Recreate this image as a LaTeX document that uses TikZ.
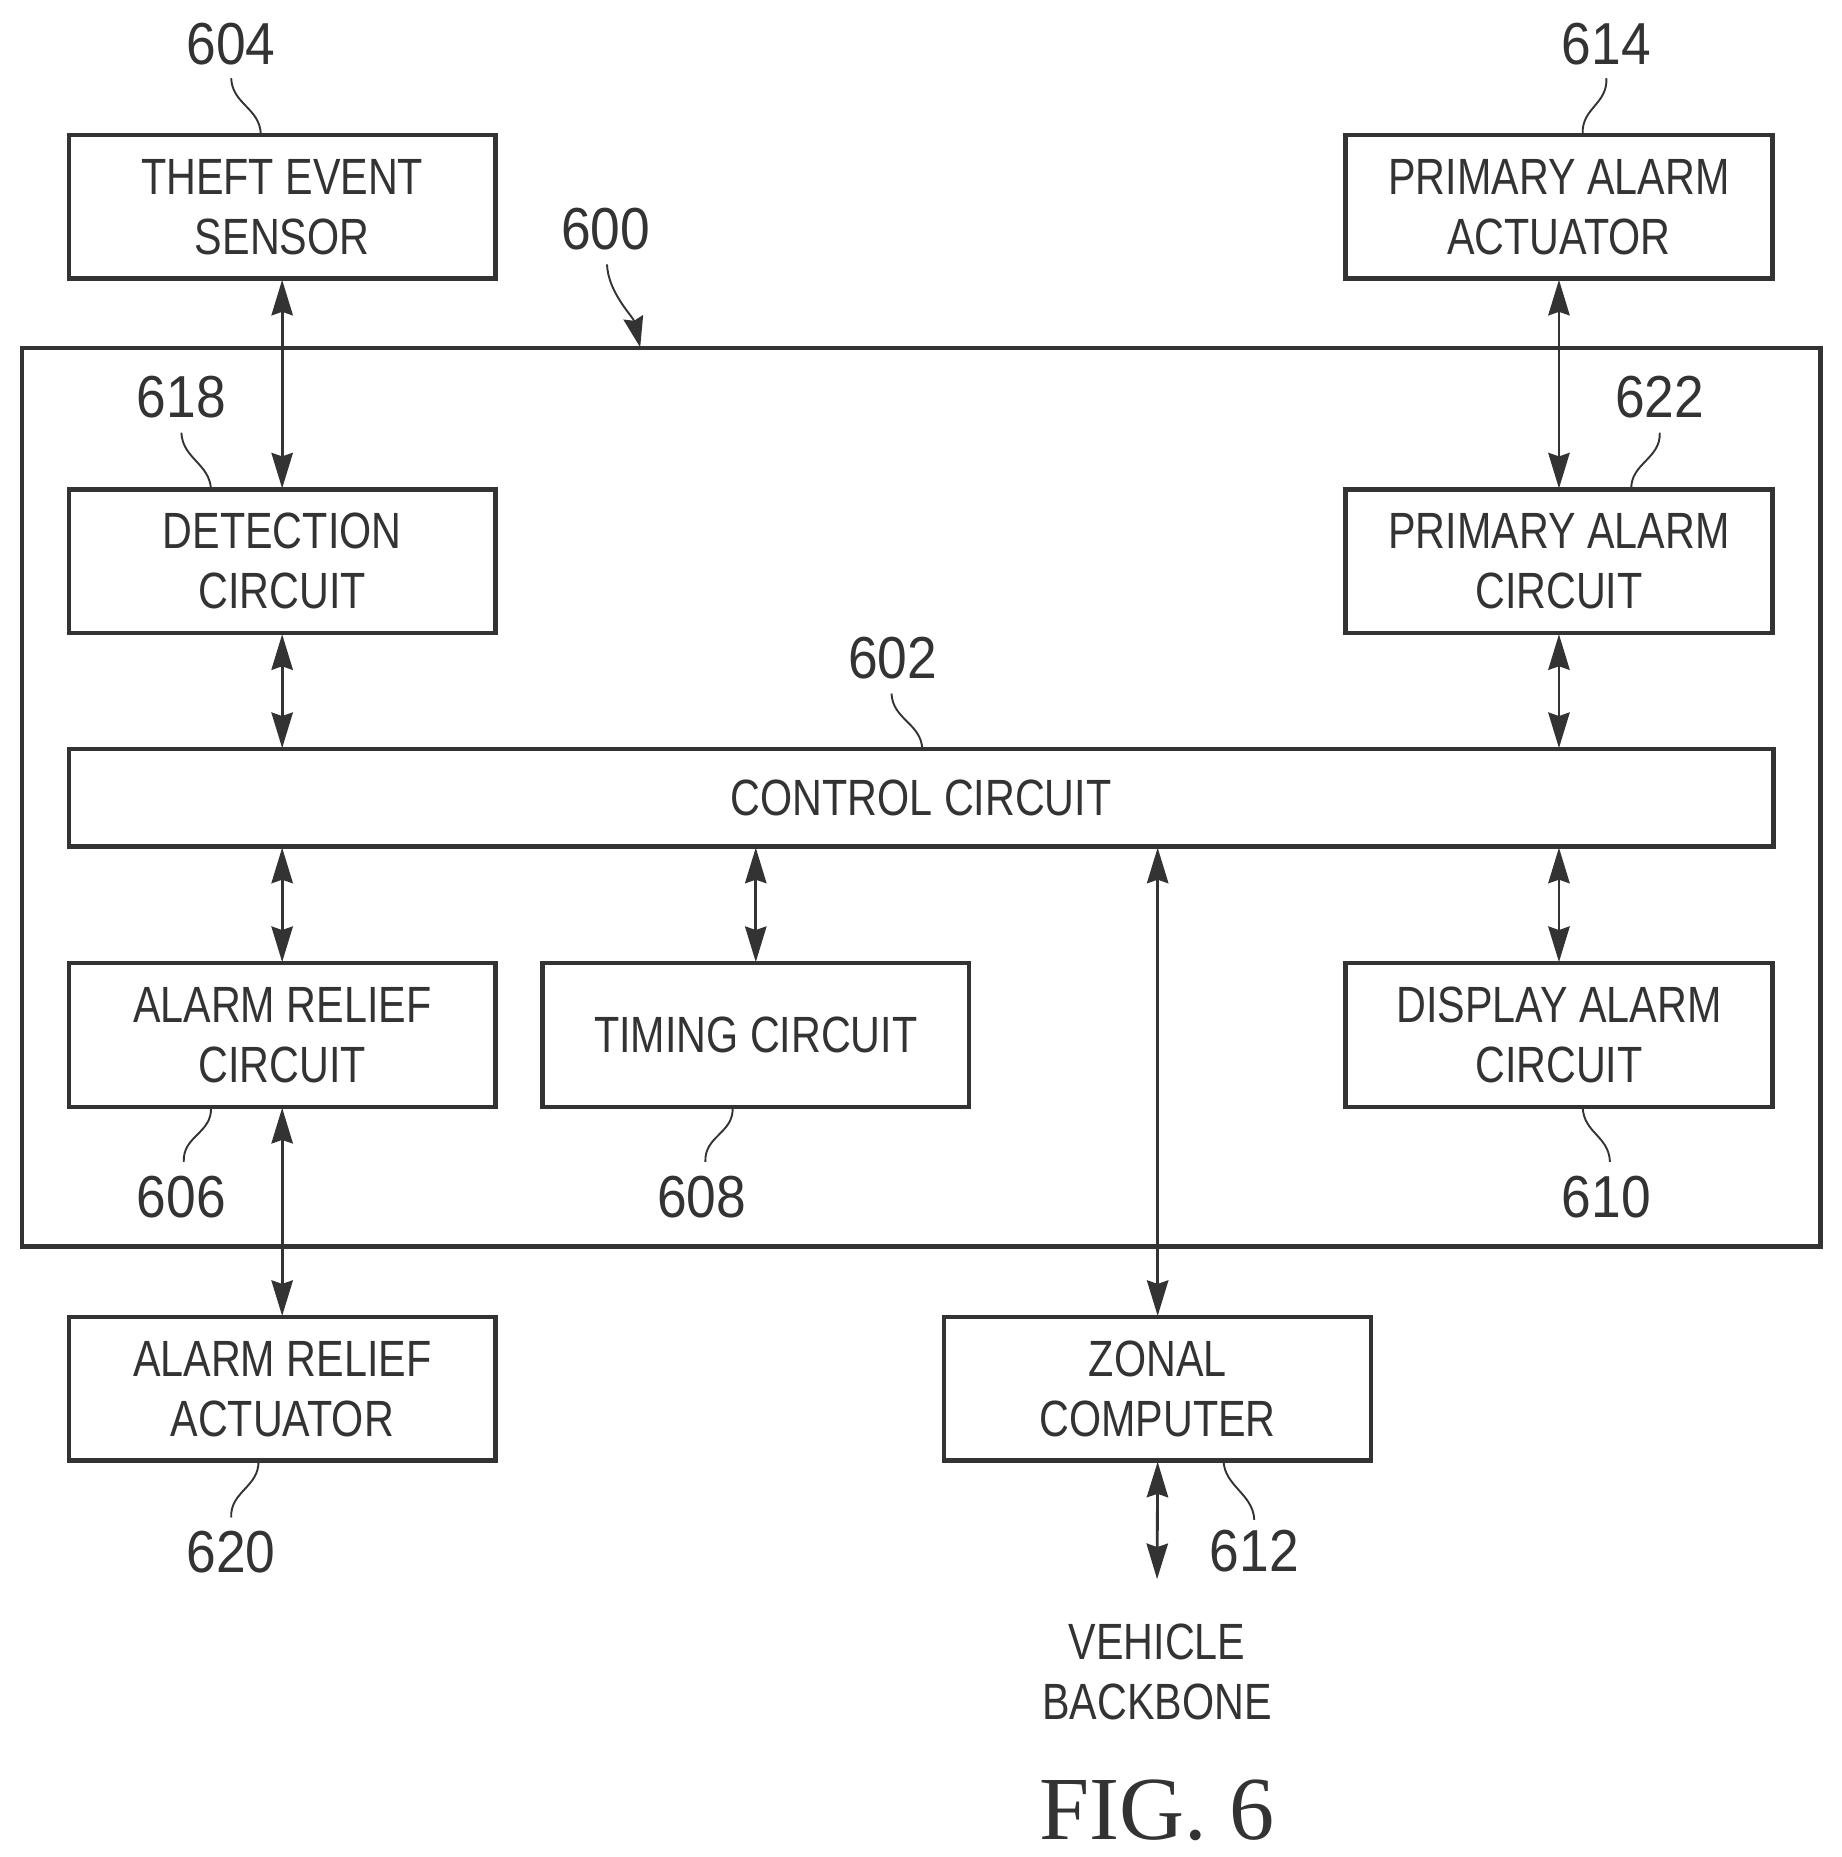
\documentclass[tikz,border=0pt]{standalone}
\usepackage{fontspec}
\usetikzlibrary{arrows.meta,calc}
\setmainfont[FakeStretch=0.81]{Liberation Sans}
\newfontfamily\numfont[FakeStretch=0.9]{Liberation Sans}
\newfontfamily\figfont{Liberation Serif}
\definecolor{ink}{gray}{0.2}
\tikzset{
  x=1pt,y=-1pt,
  blockbox/.style={draw=ink,line width=3.6pt,minimum width=360pt,minimum height=121pt,inner sep=0pt,outer sep=0pt,align=center,text=ink,font=\fontsize{43}{50.5}\selectfont},
  refnum/.style={text=ink,inner sep=0pt,font=\numfont\fontsize{50}{50}\selectfont},
  plainlabel/.style={text=ink,inner sep=0pt,align=center,font=\fontsize{43}{50.5}\selectfont},
  link/.style={draw=ink,line width=2.4pt,{Stealth[length=30pt,width=18pt,inset=3pt]}-{Stealth[length=30pt,width=18pt,inset=3pt]},shorten <=1pt,shorten >=1pt},
  leader/.style={draw=ink,line width=1.6pt},
}
\begin{document}
\begin{tikzpicture}
\useasboundingbox (0,0) rectangle (1553,1566.4);
\node[draw=ink,line width=3.6pt,minimum width=1517pt,minimum height=758pt,inner sep=0pt,outer sep=0pt] (outer) at (777,672.5) {};

\node[blockbox] (theft) at (238,174.5) {THEFT EVENT\\SENSOR};
\node[blockbox] (pact) at (1315,174.5) {PRIMARY ALARM\\ACTUATOR};
\node[blockbox] (detect) at (238,473.5) {DETECTION\\CIRCUIT};
\node[blockbox] (pcirc) at (1315,473.5) {PRIMARY ALARM\\CIRCUIT};
\node[blockbox,minimum width=1438pt,minimum height=82pt] (control) at (777,673) {CONTROL CIRCUIT};
\node[blockbox] (relief) at (238,873) {ALARM RELIEF\\CIRCUIT};
\node[blockbox] (timing) at (637.5,873) {TIMING CIRCUIT};
\node[blockbox] (display) at (1315,873) {DISPLAY ALARM\\CIRCUIT};
\node[blockbox] (ract) at (238,1171.5) {ALARM RELIEF\\ACTUATOR};
\node[blockbox] (zonal) at (976.5,1171.5) {ZONAL\\COMPUTER};

\node[plainlabel] (vb) at (976,1410.5) {VEHICLE\\BACKBONE};
\node[text=ink,inner sep=0pt,font=\figfont\fontsize{76}{76}\selectfont] (fig) at (976,1527) {FIG. 6};

\node[refnum] (n604) at (195,37) {604};
\node[refnum] (n614) at (1355,37) {614};
\node[refnum] (n600) at (511,193) {600};
\node[refnum] (n618) at (153,335) {618};
\node[refnum] (n622) at (1400,335) {622};
\node[refnum] (n602) at (753,555) {602};
\node[refnum] (n606) at (153,1010) {606};
\node[refnum] (n608) at (592,1010) {608};
\node[refnum] (n610) at (1355,1010) {610};
\node[refnum] (n620) at (195,1309) {620};
\node[refnum] (n612) at (1058,1308) {612};

\coordinate (vbtop) at (976,1333);
\draw[link] (theft.south) -- (detect.north);
\draw[link] (pact.south) -- (pcirc.north);
\draw[link] (detect.south) -- (detect.south |- control.north);
\draw[link] (pcirc.south) -- (pcirc.south |- control.north);
\draw[link] (control.south -| relief.north) -- (relief.north);
\draw[link] (control.south -| timing.north) -- (timing.north);
\draw[link] (control.south -| display.north) -- (display.north);
\draw[link] (control.south -| zonal.north) -- (zonal.north);
\draw[link] (relief.south) -- (ract.north);
\draw[link] (zonal.south) -- (vbtop);

\coordinate (l604a) at (195,66);  \coordinate (l604b) at (220,113);
\coordinate (l614a) at (1355,66); \coordinate (l614b) at (1335,113);
\coordinate (l600a) at (512,223); \coordinate (l600b) at (540,293);
\coordinate (l618a) at (153,365); \coordinate (l618b) at (178,413);
\coordinate (l622a) at (1400,365);\coordinate (l622b) at (1376,413);
\coordinate (l602a) at (752,585); \coordinate (l602b) at (778,632);
\coordinate (l606a) at (178,934); \coordinate (l606b) at (155,980);
\coordinate (l608a) at (618,934); \coordinate (l608b) at (595,980);
\coordinate (l610a) at (1335,934);\coordinate (l610b) at (1358,980);
\coordinate (l620a) at (218,1232);\coordinate (l620b) at (195,1280);
\coordinate (l612a) at (1032,1232);\coordinate (l612b) at (1058,1282);
\foreach \n in {604,614,618,622,602,606,608,610,620,612}{
  \draw[leader] (l\n a) .. controls +(1,22) and +(-1,-22) .. (l\n b);
}
\draw[leader,-{Stealth[length=26pt,width=17pt,inset=3pt]}] (l600a) .. controls +(1,24) and +(-6,-26) .. (l600b);
\end{tikzpicture}
\end{document}
